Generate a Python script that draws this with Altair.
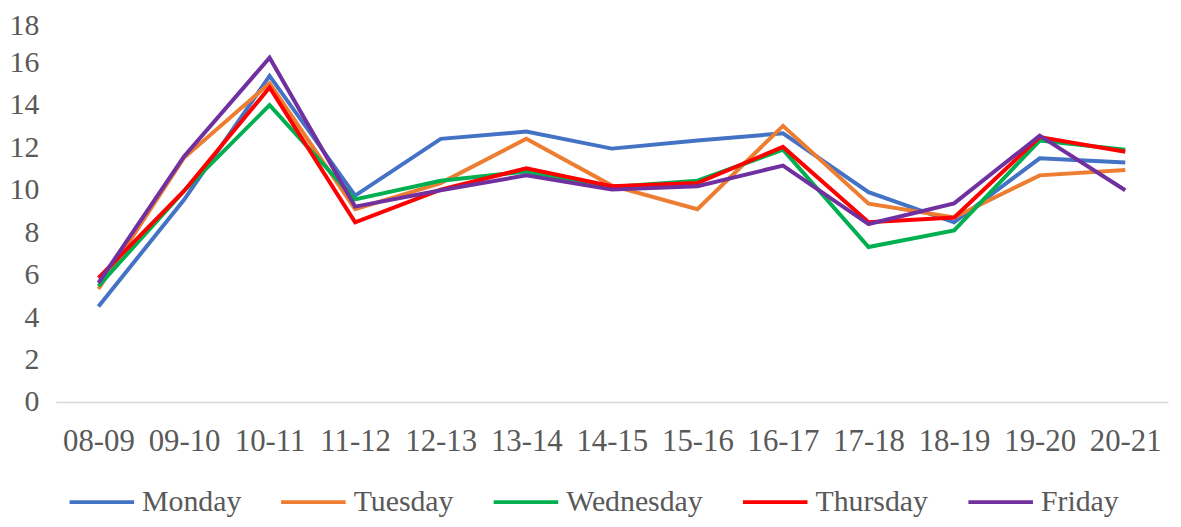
import altair as alt
import pandas as pd

hours = ["08-09", "09-10", "10-11", "11-12", "12-13", "13-14", "14-15",
         "15-16", "16-17", "17-18", "18-19", "19-20", "20-21"]
days = ["Monday", "Tuesday", "Wednesday", "Thursday", "Friday"]
colors = ["#4472C4", "#ED7D31", "#00B050", "#FF0000", "#7030A0"]

monday = [4.50, 9.52, 15.35, 9.72, 12.39, 12.73, 11.93, 12.31, 12.65, 9.88, 8.46, 11.47, 11.28]
tuesday = [5.32, 11.50, 15.01, 9.08, 10.31, 12.39, 10.19, 9.08, 13.00, 9.34, 8.69, 10.67, 10.92]
wednesday = [5.46, 9.94, 13.98, 9.54, 10.42, 10.85, 10.12, 10.42, 11.88, 7.30, 8.08, 12.31, 11.88]
thursday = [5.84, 9.94, 14.81, 8.46, 10.00, 11.00, 10.16, 10.31, 12.01, 8.46, 8.69, 12.47, 11.78]
friday = [5.61, 11.56, 16.21, 9.20, 9.97, 10.67, 10.00, 10.16, 11.13, 8.38, 9.35, 12.54, 9.97]

series = [monday, tuesday, wednesday, thursday, friday]
rows = []
for i, (d, vals) in enumerate(zip(days, series)):
    for h, v in zip(hours, vals):
        rows.append({"hour": h, "day": d, "value": v, "order": i})
df = pd.DataFrame(rows)

FONT = "Liberation Serif"
TXT = "#595959"

chart = alt.Chart(df).mark_line(strokeWidth=4).encode(
    x=alt.X("hour:N", sort=hours, title=None,
            axis=alt.Axis(labelAngle=0, labelFont=FONT, labelFontSize=31,
                          labelColor=TXT, ticks=False, domainColor="#D9D9D9",
                          domainWidth=1.5, labelPadding=25, grid=False)),
    y=alt.Y("value:Q", title=None,
            scale=alt.Scale(domain=[0, 18], nice=False),
            axis=alt.Axis(values=list(range(0, 19, 2)), labelFont=FONT,
                          labelFontSize=30, labelColor=TXT, ticks=False,
                          domain=False, grid=False, labelPadding=17,
                          labelOffset={"condition": {"test": "datum.value == 18", "value": 6},
                                       "value": 0})),
    color=alt.Color("day:N", sort=days,
                    scale=alt.Scale(domain=days, range=colors),
                    legend=alt.Legend(orient="none", direction="horizontal",
                                      legendX=12, legendY=451, title=None,
                                      symbolType="stroke", symbolSize=4225,
                                      symbolStrokeWidth=4, labelFont=FONT,
                                      labelFontSize=30, labelColor=TXT,
                                      labelOffset=6, columnPadding=32)),
    order=alt.Order("order:Q"),
).properties(
    width=1120, height=385, background="white",
    autosize=alt.AutoSizeParams(type="none"),
    padding={"left": 48, "top": 10, "right": 5, "bottom": 116},
).configure_view(stroke=None)

chart.save("out.html", embed_options={"renderer": "svg", "actions": False})
